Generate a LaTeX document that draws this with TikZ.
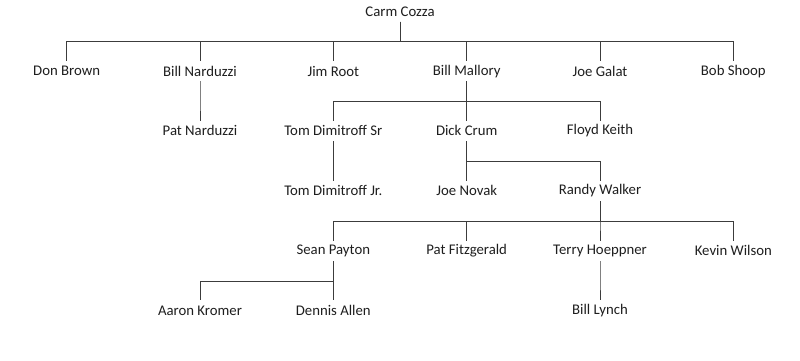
\documentclass[tikz,border=0pt]{standalone}
\usepackage{fontspec}
\setmainfont{Carlito}
\usepackage{tikz}
\usetikzlibrary{positioning, calc}
\usepackage{xcolor}
\definecolor{NameInk}{RGB}{30,30,30}
\definecolor{LinkGray}{RGB}{60,60,60}
\tikzset{
  coach/.style={rectangle,inner sep=0pt,minimum height=0.5cm,
    text=NameInk,font=\fontsize{10.5}{12}\selectfont},
  link/.style={draw=LinkGray,line width=0.65pt}
}

\begin{document}
\begin{tikzpicture}
  \useasboundingbox (0,0) rectangle (20,-9);
  % row 0
  \node[coach] (cozza) at (10,-0.29) {Carm Cozza};
  % row 1
  \node[coach] (brown) at (1.667,-1.78) {Don Brown};
  \node[coach] (bnarduzzi) at (5,-1.78) {Bill Narduzzi};
  \node[coach] (root) at (8.333,-1.78) {Jim Root};
  \node[coach] (mallory) at (11.667,-1.78) {Bill Mallory};
  \node[coach] (galat) at (15,-1.78) {Joe Galat};
  \node[coach] (shoop) at (18.333,-1.78) {Bob Shoop};
  % row 2
  \node[coach] (pnarduzzi) at (5,-3.27) {Pat Narduzzi};
  \node[coach] (dimsr) at (8.333,-3.27) {Tom Dimitroff Sr};
  \node[coach] (crum) at (11.667,-3.27) {Dick Crum};
  \node[coach] (keith) at (15,-3.27) {Floyd Keith};
  % row 3
  \node[coach] (dimjr) at (8.333,-4.77) {Tom Dimitroff Jr.};
  \node[coach] (novak) at (11.667,-4.77) {Joe Novak};
  \node[coach] (walker) at (15,-4.77) {Randy Walker};
  % row 4
  \node[coach] (payton) at (8.333,-6.27) {Sean Payton};
  \node[coach] (fitzgerald) at (11.667,-6.27) {Pat Fitzgerald};
  \node[coach] (hoeppner) at (15,-6.27) {Terry Hoeppner};
  \node[coach] (wilson) at (18.333,-6.27) {Kevin Wilson};
  % row 5
  \node[coach] (kromer) at (5,-7.76) {Aaron Kromer};
  \node[coach] (allen) at (8.333,-7.76) {Dennis Allen};
  \node[coach] (lynch) at (15,-7.76) {Bill Lynch};
  % tree links
  \foreach \a/\b in {cozza/brown,cozza/bnarduzzi,cozza/root,cozza/mallory,
      cozza/galat,cozza/shoop,bnarduzzi/pnarduzzi,mallory/dimsr,mallory/crum,
      mallory/keith,dimsr/dimjr,crum/novak,crum/walker,walker/payton,
      walker/fitzgerald,walker/hoeppner,walker/wilson,payton/kromer,
      payton/allen,hoeppner/lynch}
    \draw[link] (\a.south) -- ++(0,-0.5) -| (\b.north);
\end{tikzpicture}
\end{document}
